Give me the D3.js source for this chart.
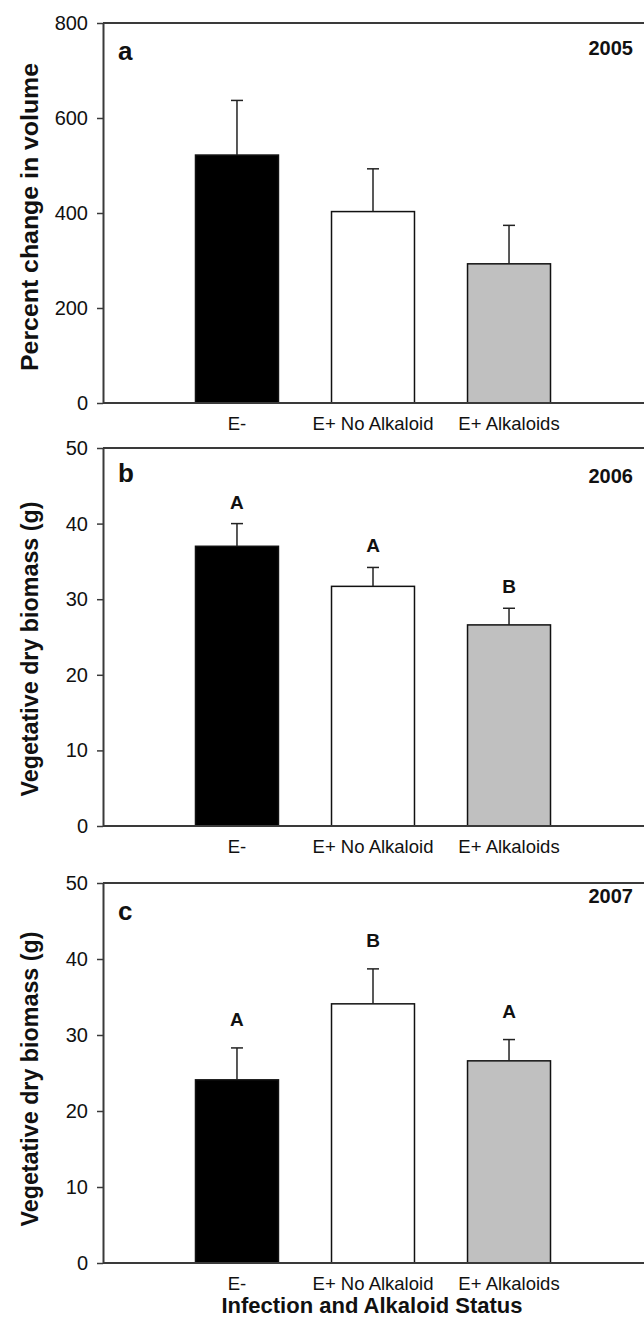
<!DOCTYPE html>
<html>
<head>
<meta charset="utf-8">
<script src="https://cdn.jsdelivr.net/npm/d3@7/dist/d3.min.js"></script>
<style>
  body { margin: 0; background: #fff; }
  svg { display: block; font-family: "Liberation Sans", Arial, sans-serif; }
</style>
</head>
<body>
<div class="chart_wrapper"></div>
<script>
// values
const categories = ["E-", "E+ No Alkaloid", "E+ Alkaloids"]
const barFills = ["#000000", "#ffffff", "#c0c0c0"]

const volume2005 = [522, 403, 293]
const volume2005Err = [115, 90, 81]
const volumeTicks = [0, 200, 400, 600, 800]

const biomass2006 = [37.0, 31.7, 26.6]
const biomass2006Err = [3.0, 2.5, 2.2]
const letters2006 = ["A", "A", "B"]

const biomass2007 = [24.1, 34.1, 26.6]
const biomass2007Err = [4.2, 4.6, 2.8]
const letters2007 = ["A", "B", "A"]

const biomassTicks = [0, 10, 20, 30, 40, 50]

const width = 644
const height = 1321
const left = 103
const right = 643

const panels = [
    { tag: "a", year: "2005", values: volume2005, errs: volume2005Err, letters: null,
      ticks: volumeTicks, ytitle: "Percent change in volume", top: 23, bottom: 403,
      titleShift: 4, yearDy: 32, letterGap: 0 },
    { tag: "b", year: "2006", values: biomass2006, errs: biomass2006Err, letters: letters2006,
      ticks: biomassTicks, ytitle: "Vegetative dry biomass (g)", top: 448, bottom: 826,
      titleShift: 12, yearDy: 35, letterGap: 15 },
    { tag: "c", year: "2007", values: biomass2007, errs: biomass2007Err, letters: letters2007,
      ticks: biomassTicks, ytitle: "Vegetative dry biomass (g)", top: 883, bottom: 1263,
      titleShift: 6, yearDy: 20, letterGap: 22 }
]

const svg = d3.select('.chart_wrapper')
    .append('svg')
    .attr('width', width)
    .attr('height', height)

svg.append('rect').attr('width', width).attr('height', height).attr('fill', '#fff')

const x = d3.scaleBand()
    .domain(categories)
    .range([left, right])
    .paddingInner(0.39)
    .paddingOuter(0.68)

panels.forEach(p => {
    const y = d3.scaleLinear()
        .domain([0, d3.max(p.ticks)])
        .range([p.bottom, p.top])

    const g = svg.append('g')

    // top frame line (runs off the right edge)
    g.append('line')
        .attr('x1', left).attr('x2', width)
        .attr('y1', p.top).attr('y2', p.top)
        .attr('stroke', '#3a3a3a')
        .attr('stroke-width', 2)

    // bars
    g.selectAll('rect.bar')
        .data(p.values)
        .join('rect')
        .attr('class', 'bar')
        .attr('x', (d, i) => x(categories[i]))
        .attr('width', x.bandwidth())
        .attr('y', d => y(d))
        .attr('height', d => y(0) - y(d))
        .attr('fill', (d, i) => barFills[i])
        .attr('stroke', '#111')
        .attr('stroke-width', 1.5)

    // error bars (upper only)
    const eb = g.selectAll('g.err')
        .data(p.values)
        .join('g')
        .attr('class', 'err')
        .attr('transform', (d, i) => `translate(${x(categories[i]) + x.bandwidth() / 2},0)`)
    eb.append('line')
        .attr('y1', d => y(d))
        .attr('y2', (d, i) => y(d + p.errs[i]))
        .attr('stroke', '#222').attr('stroke-width', 1.5)
    eb.append('line')
        .attr('x1', -6).attr('x2', 6)
        .attr('y1', (d, i) => y(d + p.errs[i]))
        .attr('y2', (d, i) => y(d + p.errs[i]))
        .attr('stroke', '#222').attr('stroke-width', 1.5)

    // significance letters
    if (p.letters) {
        eb.append('text')
            .attr('y', (d, i) => y(d + p.errs[i]) - p.letterGap)
            .attr('text-anchor', 'middle')
            .attr('font-size', 19)
            .attr('font-weight', 'bold')
            .attr('fill', '#111')
            .text((d, i) => p.letters[i])
    }

    // y axis
    const yAxis = g.append('g')
        .attr('transform', `translate(${left},0)`)
        .call(d3.axisLeft(y).tickValues(p.ticks).tickSize(6).tickPadding(9).tickSizeOuter(0))
    yAxis.select('.domain').attr('stroke', '#3a3a3a').attr('stroke-width', 2)
    yAxis.selectAll('.tick line').attr('stroke', '#3a3a3a').attr('stroke-width', 1.5)
    yAxis.selectAll('.tick text')
        .attr('font-size', 20)
        .attr('fill', '#111')
        .attr('font-family', '"Liberation Sans", Arial, sans-serif')

    // x axis
    const xAxis = g.append('g')
        .attr('transform', `translate(0,${p.bottom})`)
        .call(d3.axisBottom(x).tickSize(0).tickPadding(14).tickSizeOuter(0))
    xAxis.select('.domain')
        .attr('d', `M${left},0H${width}`)
        .attr('stroke', '#3a3a3a').attr('stroke-width', 2)
    xAxis.selectAll('.tick text')
        .attr('font-size', 18.5)
        .attr('fill', '#111')
        .attr('font-family', '"Liberation Sans", Arial, sans-serif')

    // y title
    const cy = (p.top + p.bottom) / 2 + p.titleShift
    g.append('text')
        .attr('transform', `translate(38,${cy}) rotate(-90)`)
        .attr('text-anchor', 'middle')
        .attr('font-size', 24)
        .attr('font-weight', 'bold')
        .attr('fill', '#111')
        .attr('textLength', p.tag === 'a' ? 308 : 295)
        .attr('lengthAdjust', 'spacingAndGlyphs')
        .text(p.ytitle)

    // panel tag and year
    g.append('text')
        .attr('x', 118)
        .attr('y', p.top + (p.tag === 'b' ? 34 : 37))
        .attr('font-size', 26)
        .attr('font-weight', 'bold')
        .attr('fill', '#111')
        .text(p.tag)
    g.append('text')
        .attr('x', 633)
        .attr('y', p.top + p.yearDy)
        .attr('text-anchor', 'end')
        .attr('font-size', 20)
        .attr('font-weight', 'bold')
        .attr('fill', '#111')
        .text(p.year)
})

// x title under last panel
svg.append('text')
    .attr('x', 372)
    .attr('y', 1313)
    .attr('text-anchor', 'middle')
    .attr('font-size', 22)
    .attr('font-weight', 'bold')
    .attr('fill', '#111')
    .text('Infection and Alkaloid Status')
</script>
</body>
</html>
